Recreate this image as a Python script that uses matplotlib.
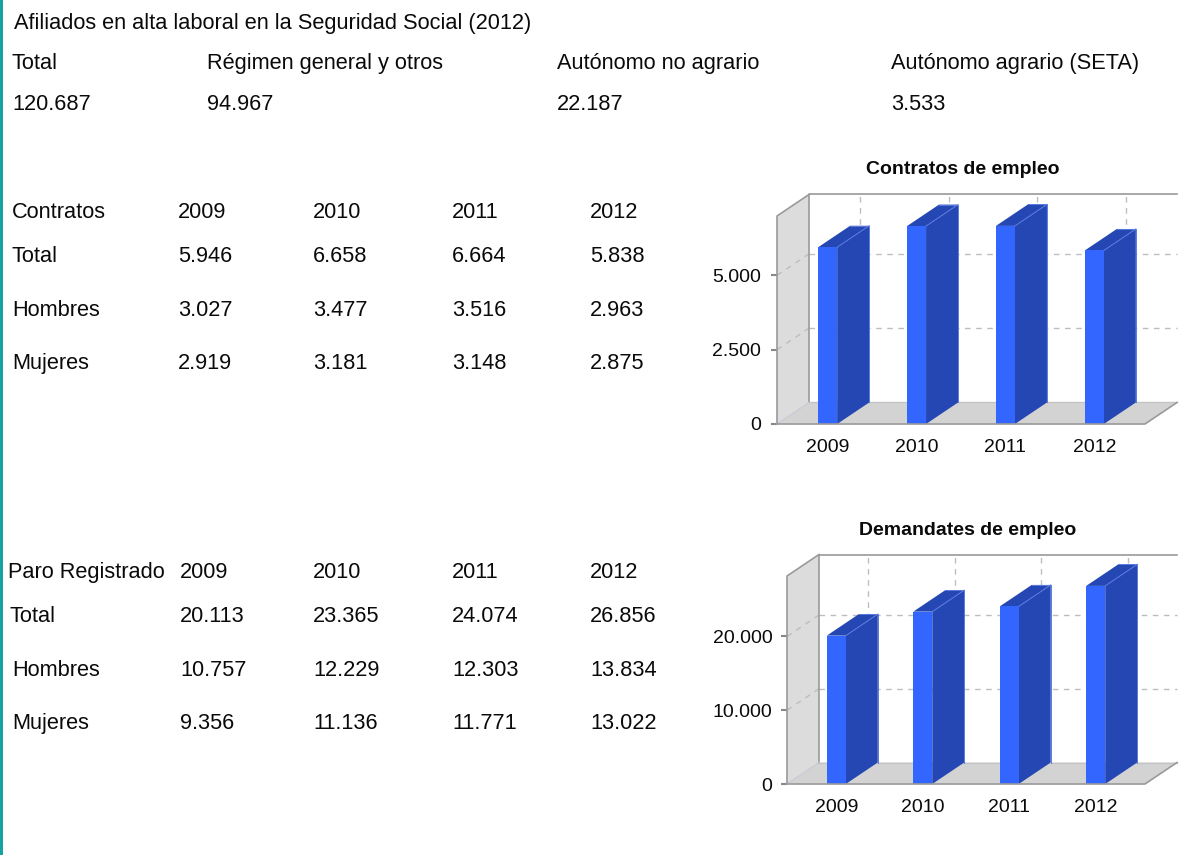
import matplotlib
matplotlib.use('Agg')
import matplotlib.pyplot as plt
from matplotlib.patches import Polygon, Rectangle

plt.rcParams['font.family'] = ['Liberation Sans', 'DejaVu Sans']

# ---------------- data ----------------
af_title = 'Afiliados en alta laboral en la Seguridad Social (2012)'
af_labels = ['Total', 'Régimen general y otros', 'Autónomo no agrario', 'Autónomo agrario (SETA)']
af_values = [120687, 94967, 22187, 3533]

years = ['2009', '2010', '2011', '2012']
row_labels = ['Total', 'Hombres', 'Mujeres']

contratos_total = [5946, 6658, 6664, 5838]
contratos_hombres = [3027, 3477, 3516, 2963]
contratos_mujeres = [2919, 3181, 3148, 2875]

paro_total = [20113, 23365, 24074, 26856]
paro_hombres = [10757, 12229, 12303, 13834]
paro_mujeres = [9356, 11136, 11771, 13022]

contratos_ticks = [0, 2500, 5000]
paro_ticks = [0, 10000, 20000]


def fmt(v):
    return f"{v:,}".replace(',', '.')


W, H = 1179, 855
fig = plt.figure(figsize=(W / 100, H / 100), dpi=100)
fig.patch.set_facecolor('white')

bg = fig.add_axes([0, 0, 1, 1])
bg.set_xlim(0, W)
bg.set_ylim(H, 0)
bg.axis('off')
bg.add_patch(Rectangle((0, 0), 3, H, color='#17a2a2', lw=0))

FS = 15.7
TXT = '#0a0a0a'


def t(x, y, s, **kw):
    bg.text(x, y, s, fontsize=kw.pop('fs', FS), color=TXT, ha='left', va='baseline', **kw)


# Afiliados block
t(14, 29, af_title)
af_x = [12, 207, 557, 891]
for x, lab, val in zip(af_x, af_labels, af_values):
    t(x, 69, lab)
    t(x, 110, fmt(val))

# Contratos table
col_x = [178, 313, 452, 590]
t(12, 218, 'Contratos')
for x, yr in zip(col_x, years):
    t(x, 218, yr)
for ry, lab, vals in zip([262, 316, 369], row_labels,
                         [contratos_total, contratos_hombres, contratos_mujeres]):
    t(12, ry, lab)
    for x, v in zip(col_x, vals):
        t(x, ry, fmt(v))

# Paro table
col_x2 = [180, 313, 452, 590]
t(8, 578, 'Paro Registrado')
for x, yr in zip(col_x2, years):
    t(x, 578, yr)
for ry, lx, lab, vals in zip([622, 676, 729], [10, 12, 12], row_labels,
                             [paro_total, paro_hombres, paro_mujeres]):
    t(lx, ry, lab)
    for x, v in zip(col_x2, vals):
        t(x, ry, fmt(v))


FRONT = '#3366ff'
SIDE = '#2447b3'
EDGE = '#5b7ae0'
WALL = '#dcdcdc'
FLOOR = '#d3d3d3'
LINE = '#9a9a9a'
GRID = '#bdbdbd'


def chart3d(left, right, bottom, top, values, ticks, title, title_y, ylab_gap):
    ax = fig.add_axes([left / W, (H - bottom) / H, (right - left) / W, (bottom - top) / H])
    x0, x1 = -0.57, 3.57
    ymax = 1.05 * max(values)
    ax.set_xlim(x0, x1)
    ax.set_ylim(0, ymax)
    ax.patch.set_visible(False)
    for sp in ax.spines.values():
        sp.set_visible(False)
    sx = (right - left) / (x1 - x0)
    sy = (bottom - top) / ymax
    dx = 32 / sx
    dy = 21.5 / sy
    bw = 19 / sx

    kw = dict(clip_on=False)
    # left wall
    ax.add_patch(Polygon([(x0, 0), (x0 + dx, dy), (x0 + dx, ymax + dy), (x0, ymax)],
                         closed=True, fc=WALL, ec='none', zorder=1, **kw))
    # floor
    ax.add_patch(Polygon([(x0, 0), (x1, 0), (x1 + dx, dy), (x0 + dx, dy)],
                         closed=True, fc=FLOOR, ec='none', zorder=1, **kw))
    # grid lines
    for tv in ticks:
        if tv == 0:
            continue
        ax.plot([x0 + dx, x1 + dx], [tv + dy, tv + dy], ls=(0, (4, 4)), color=GRID, lw=1, zorder=2, **kw)
        ax.plot([x0, x0 + dx], [tv, tv + dy], ls=(0, (4, 4)), color=GRID, lw=1, zorder=2, **kw)
    for i in range(len(values)):
        ax.plot([i + dx, i + dx], [dy, ymax + dy], ls=(0, (4, 4)), color=GRID, lw=1, zorder=2, **kw)
    # back wall outline and floor back line
    ax.plot([x0 + dx, x0 + dx, x1 + dx], [dy, ymax + dy, ymax + dy], color=LINE, lw=1.2, zorder=2, **kw)
    ax.plot([x0 + dx, x1 + dx], [dy, dy], color='#c4c4c4', lw=1, zorder=2, **kw)
    ax.plot([x0, x0 + dx], [0, dy], color='#c8c8d8', lw=0.8, zorder=2, **kw)

    # bars
    ax.bar(range(len(values)), values, width=bw, color=FRONT, lw=0, zorder=4)
    for i, v in enumerate(values):
        xr = i + bw / 2
        xl = i - bw / 2
        ax.add_patch(Polygon([(xr, 0), (xr + dx, dy), (xr + dx, v + dy), (xr, v)],
                             closed=True, fc=SIDE, ec='none', zorder=3, **kw))
        ax.add_patch(Polygon([(xl, v), (xr, v), (xr + dx, v + dy), (xl + dx, v + dy)],
                             closed=True, fc=SIDE, ec='none', zorder=3, **kw))
        ax.plot([xr, xr + dx], [v, v + dy], color=EDGE, lw=0.7, zorder=5, **kw)
        ax.plot([xl + dx, xr + dx, xr + dx], [v + dy, v + dy, dy], color=EDGE, lw=0.7, zorder=3.5, **kw)

    # front edges
    ax.plot([x0, x0, x0 + dx], [0, ymax, ymax + dy], color=LINE, lw=1.2, zorder=6, **kw)
    ax.plot([x0, x1, x1 + dx], [0, 0, dy], color=LINE, lw=1.2, zorder=6, **kw)

    ax.set_yticks(ticks)
    ax.set_yticklabels([fmt(v) for v in ticks])
    ax.set_xticks(range(len(values)))
    ax.set_xticklabels(years)
    ax.tick_params(axis='y', length=4.5, width=1.5, color='#888888', pad=ylab_gap,
                   labelsize=14, labelcolor='#0a0a0a')
    ax.tick_params(axis='x', length=0, pad=11, labelsize=14, labelcolor='#0a0a0a')
    bg.text((left + right) / 2 + 2, title_y, title, fontsize=14, fontweight='bold',
            ha='center', va='center', color='#0a0a0a')
    return ax


chart3d(777, 1145, 424, 216, contratos_total, contratos_ticks, 'Contratos de empleo', 170, 7)
chart3d(787, 1145, 784, 576, paro_total, paro_ticks, 'Demandates de empleo', 530, 6)

fig.savefig('out.png', dpi=100, facecolor='white')
